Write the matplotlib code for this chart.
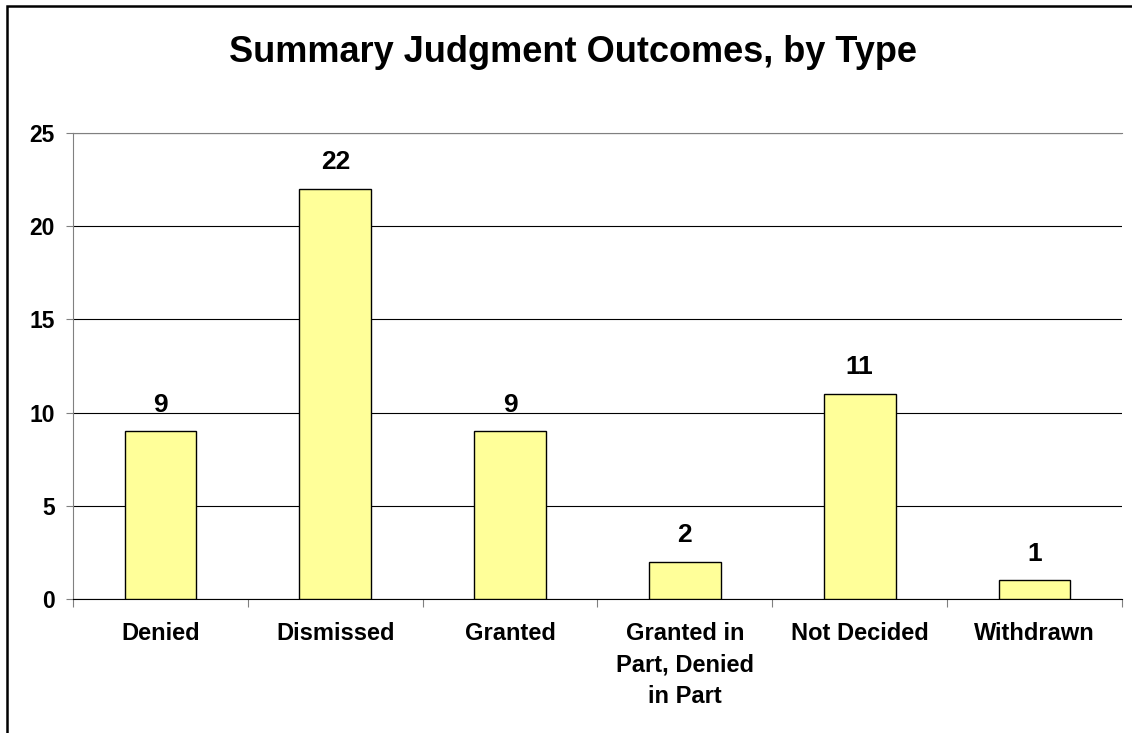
import matplotlib as mpl
mpl.use('Agg')
import matplotlib.pyplot as plt
from matplotlib.patches import Rectangle

#
#--- chart data
#
categories = ['Denied', 'Dismissed', 'Granted', 'Granted in\nPart, Denied\nin Part',
              'Not Decided', 'Withdrawn']
counts     = [9, 22, 9, 2, 11, 1]
y_ticks    = [0, 5, 10, 15, 20, 25]

plt.rcParams['font.family'] = ['Liberation Sans', 'DejaVu Sans']

fig = plt.figure(figsize=(11.32, 7.33), dpi=100)
#
#--- outer chart frame (runs off the right and bottom edge)
#
fig.patches.append(Rectangle((7 / 1132, -0.05), 1.2, 1.05 - 5.5 / 733,
                             transform=fig.transFigure, fill=False,
                             edgecolor='black', lw=1.8, zorder=0))

ax = fig.add_axes([73 / 1132, 1 - 599 / 733, (1122 - 73) / 1132, (599 - 133) / 733])

xpos = list(range(len(categories)))
ax.bar(xpos, counts, width=0.41, color='#ffff99', edgecolor='black', lw=1.0, zorder=3)

for x, v in zip(xpos, counts):
    ax.text(x, v + 1.05, str(v), ha='center', va='baseline', fontsize=19, fontweight='bold')
#
#--- axes setup
#
ax.set_xlim(-0.5, len(categories) - 0.5)
ax.set_ylim(0, 25)
ax.set_yticks(y_ticks)
ax.set_yticklabels([str(t) for t in y_ticks], fontsize=16.5, fontweight='bold')
ax.yaxis.grid(True, color='black', lw=0.8, zorder=0)
ax.set_axisbelow(True)
ax.tick_params(axis='y', length=5, width=0.8, color='#808080', pad=8)

ax.set_xticks([x + 0.5 for x in xpos[:-1]] + [-0.5, len(categories) - 0.5], minor=False)
ax.set_xticklabels([])
ax.set_xticks(xpos, minor=True)
ax.set_xticklabels(categories, minor=True, fontsize=17, fontweight='bold', linespacing=1.47)
ax.tick_params(axis='x', which='major', length=6, width=0.8, color='#808080', direction='out')
ax.tick_params(axis='x', which='minor', length=0, pad=16.5)

ax.spines['right'].set_visible(False)
ax.spines['top'].set_color('#808080')
ax.spines['left'].set_color('#808080')
ax.spines['bottom'].set_color('black')

fig.text(573 / 1132, 1 - 52 / 733, 'Summary Judgment Outcomes, by Type',
         ha='center', va='center', fontsize=26, fontweight='bold')

plt.savefig('out.png', dpi=100)
plt.close('all')
